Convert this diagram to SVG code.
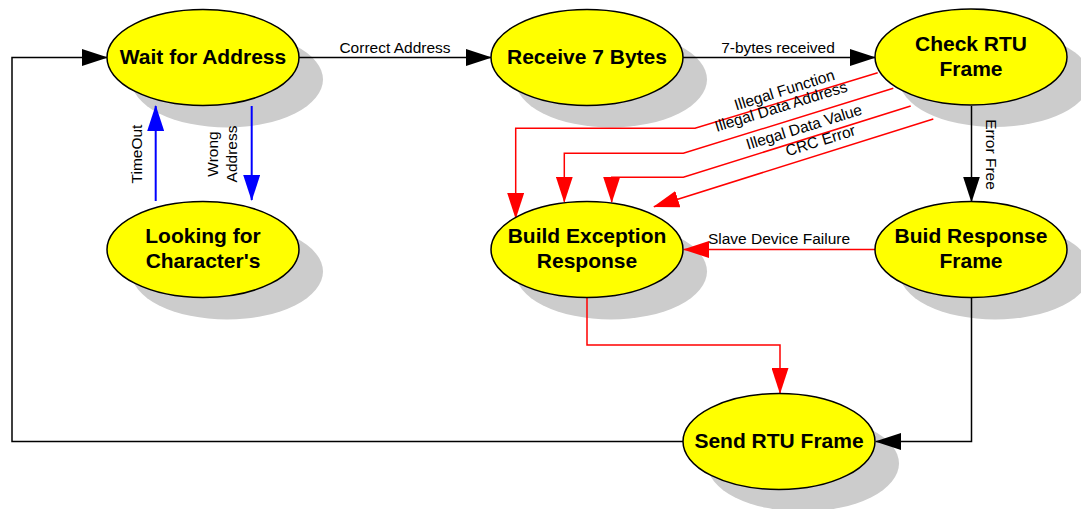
<svg xmlns="http://www.w3.org/2000/svg" width="1081" height="509" viewBox="0 0 1081 509">
<style>
.bg{fill:#ffffff}
.shadow{fill:#cccccc;stroke:none}
.node{fill:#ffff00;stroke:#000000;stroke-width:1.5}
.nt{font-family:"Liberation Sans",Arial,sans-serif;font-weight:bold;font-size:21px;fill:#000000;text-anchor:middle}
.lbl{font-family:"Liberation Sans",Arial,sans-serif;font-size:15.5px;fill:#000000;text-anchor:middle}
.k{fill:none;stroke:#000000;stroke-width:1.5;marker-end:url(#ak)}
.r{fill:none;stroke:#ff0000;stroke-width:1.5;marker-end:url(#ar)}
.b{fill:none;stroke:#0000ff;stroke-width:2;marker-end:url(#ab)}
</style>
<defs>
<marker id="ak" markerUnits="userSpaceOnUse" viewBox="0 0 26 17" markerWidth="26" markerHeight="17" refX="25" refY="8.5" orient="auto"><path d="M0,0 L26,8.5 L0,17 z" fill="#000000"/></marker>
<marker id="ar" markerUnits="userSpaceOnUse" viewBox="0 0 26 17" markerWidth="26" markerHeight="17" refX="25" refY="8.5" orient="auto"><path d="M0,0 L26,8.5 L0,17 z" fill="#ff0000"/></marker>
<marker id="ab" markerUnits="userSpaceOnUse" viewBox="0 0 26 17" markerWidth="26" markerHeight="17" refX="25" refY="8.5" orient="auto"><path d="M0,0 L26,8.5 L0,17 z" fill="#0000ff"/></marker>
</defs>
<rect class="bg" x="0" y="0" width="1081" height="509"/>
<g id="shadows">
<ellipse class="shadow" cx="227" cy="79.5" rx="96" ry="48"/>
<ellipse class="shadow" cx="227" cy="271.5" rx="96" ry="48"/>
<ellipse class="shadow" cx="611" cy="79.5" rx="96" ry="48"/>
<ellipse class="shadow" cx="995" cy="79" rx="96" ry="48"/>
<ellipse class="shadow" cx="611" cy="271.5" rx="96" ry="48"/>
<ellipse class="shadow" cx="995" cy="271.5" rx="96" ry="48"/>
<ellipse class="shadow" cx="803" cy="463.5" rx="96" ry="48"/>
</g>
<g id="connectors">
<path class="k" d="M683,441.5 H12 V57.5 H107"/>
<path class="k" d="M299,57.5 H491"/>
<path class="k" d="M683,57.5 H875"/>
<path class="k" d="M971.5,106 V201.5"/>
<path class="k" d="M971.5,297 V441.5 H876"/>
<path class="r" d="M587,297 V345 H780 V393"/>
<path class="r" d="M876,249.5 H684"/>
<path class="r" d="M877.7,72.7 L695,128.3 H515.7 V218"/>
<path class="r" d="M893.3,88.3 L683.3,153.3 H564.3 V201.7"/>
<path class="r" d="M910.7,106 L683.3,177.3 H611.7 V202"/>
<path class="r" d="M933.3,119 L654,206.7"/>
<path class="b" d="M155.7,201 V106"/>
<path class="b" d="M251.7,106 V200"/>
<text class="lbl" x="395" y="53">Correct Address</text>
<text class="lbl" x="778" y="53">7-bytes received</text>
<text class="lbl" x="779" y="244">Slave Device Failure</text>
<text class="lbl" transform="translate(141.5,154) rotate(-90)">TimeOut</text>
<text class="lbl" transform="translate(218,154) rotate(-90)">Wrong</text>
<text class="lbl" transform="translate(237,154) rotate(-90)">Address</text>
<text class="lbl" transform="translate(985.5,154.5) rotate(90)">Error Free</text>
<text class="lbl" transform="translate(786,95) rotate(-17.4)">Illegal Function</text>
<text class="lbl" transform="translate(782.5,111.5) rotate(-17.2)">Illegal Data Address</text>
<text class="lbl" transform="translate(805.5,132) rotate(-17.2)">Illegal Data Value</text>
<text class="lbl" transform="translate(822,145.5) rotate(-17.2)">CRC Error</text>
</g>
<g id="node-wait">
<ellipse class="node" cx="203" cy="57.5" rx="96" ry="48"/>
<text class="nt" x="203" y="64">Wait for Address</text>
</g>
<g id="node-looking">
<ellipse class="node" cx="203" cy="249.5" rx="96" ry="48"/>
<text class="nt" x="203" y="243">Looking for</text>
<text class="nt" x="203" y="268">Character's</text>
</g>
<g id="node-receive">
<ellipse class="node" cx="587" cy="57.5" rx="96" ry="48"/>
<text class="nt" x="587" y="64">Receive 7 Bytes</text>
</g>
<g id="node-check">
<ellipse class="node" cx="971" cy="57" rx="96" ry="48"/>
<text class="nt" x="971" y="51">Check RTU</text>
<text class="nt" x="971" y="76">Frame</text>
</g>
<g id="node-exception">
<ellipse class="node" cx="587" cy="249.5" rx="96" ry="48"/>
<text class="nt" x="587" y="243">Build Exception</text>
<text class="nt" x="587" y="268">Response</text>
</g>
<g id="node-response">
<ellipse class="node" cx="971" cy="249.5" rx="96" ry="48"/>
<text class="nt" x="971" y="243">Buid Response</text>
<text class="nt" x="971" y="268">Frame</text>
</g>
<g id="node-send">
<ellipse class="node" cx="779" cy="441.5" rx="96" ry="48"/>
<text class="nt" x="779" y="448">Send RTU Frame</text>
</g>
</svg>
